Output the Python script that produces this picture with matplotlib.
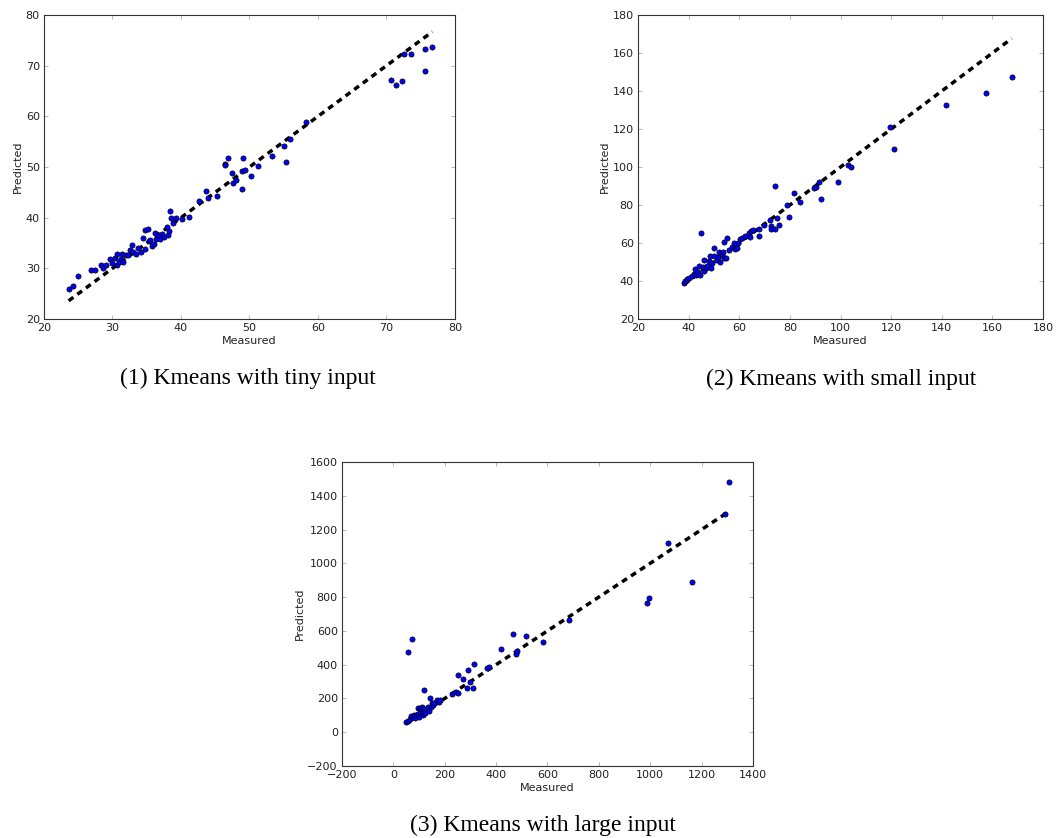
import numpy as np
import matplotlib
matplotlib.use('Agg')
import matplotlib.pyplot as plt

# (1) tiny input
tiny_measured = [23.6, 24.3, 24.9, 26.8, 27.5, 28.3, 28.6, 29.1, 29.7, 29.9, 30.3, 30.7,
                 30.6, 30.9, 31.2, 31.4, 31.6, 32.0, 32.3, 32.6, 32.8, 33.0, 33.4, 33.7,
                 34.1, 34.5, 34.7, 34.8, 35.2, 35.3, 35.5, 35.7, 36.0, 36.2, 36.4, 36.7,
                 36.9, 37.2, 37.5, 37.9, 38.1, 38.2, 38.4, 38.6, 38.9, 39.3, 40.1, 41.1,
                 42.6, 43.6, 43.9, 45.3, 46.4, 46.5, 46.8, 47.5, 47.6, 48.0, 48.9, 48.9,
                 49.1, 49.4, 50.2, 51.2, 53.3, 55.1, 55.3, 55.9, 58.3, 70.6, 71.4, 72.2,
                 72.5, 73.6, 75.6, 75.7, 76.7]
tiny_predicted = [26.0, 26.6, 28.4, 29.6, 29.7, 30.6, 30.0, 30.7, 31.8, 31.0, 32.0, 32.8,
                  30.7, 31.3, 31.8, 32.8, 31.3, 32.6, 32.6, 33.6, 34.6, 33.3, 32.8, 34.1,
                  33.2, 36.0, 37.6, 33.9, 37.8, 35.3, 35.6, 34.5, 34.9, 36.9, 35.8, 36.6,
                  35.7, 36.7, 36.1, 38.2, 36.6, 37.4, 41.3, 39.9, 39.0, 39.9, 39.7, 40.1,
                  43.2, 45.3, 43.9, 44.2, 50.5, 50.4, 51.8, 48.9, 46.9, 47.4, 45.7, 49.2,
                  51.8, 49.4, 48.2, 50.2, 52.2, 54.2, 50.9, 55.5, 58.8, 67.1, 66.1, 67.0,
                  72.3, 72.3, 68.9, 73.2, 73.7]

# (2) small input
small_measured = [38.3, 38.7, 39.4, 40.1, 41.2, 42.1, 42.5, 42.9, 43.7, 44.2, 44.6, 45.0,
                  45.5, 45.9, 46.2, 46.9, 47.4, 48.2, 48.6, 49.0, 49.4, 49.9, 50.2, 51.2,
                  51.7, 52.0, 52.5, 53.2, 53.6, 53.8, 54.1, 54.9, 55.2, 56.1, 57.1, 57.8,
                  58.2, 59.1, 59.4, 60.2, 61.1, 62.4, 63.7, 64.4, 64.6, 65.4, 67.7, 67.7,
                  69.6, 72.3, 72.5, 72.5, 74.0, 74.3, 75.0, 75.6, 78.9, 79.7, 81.8, 84.1,
                  89.4, 90.4, 91.6, 92.3, 98.9, 102.8, 104.1, 119.4, 121.0, 141.5, 157.5,
                  167.6]
small_predicted = [39.1, 40.0, 40.9, 41.8, 42.6, 43.7, 46.1, 43.2, 44.9, 47.7, 43.2, 65.3,
                   47.5, 50.9, 45.4, 46.7, 48.1, 50.5, 53.3, 47.0, 49.3, 53.2, 57.2, 51.1,
                   52.8, 55.4, 50.2, 53.7, 55.4, 51.9, 60.4, 51.9, 62.5, 56.3, 58.1, 60.2,
                   56.7, 57.2, 59.8, 61.9, 62.5, 63.7, 65.1, 63.3, 66.1, 66.8, 63.7, 67.2,
                   69.5, 72.1, 68.9, 67.2, 67.2, 90.2, 73.2, 69.6, 80.2, 73.9, 86.3, 81.6,
                   88.9, 89.6, 92.3, 83.0, 92.3, 100.9, 100.0, 121.1, 109.6, 132.5, 138.9,
                   147.5]

# (3) large input
large_measured = [50, 56, 59, 63, 68, 73, 76, 82, 85, 90, 95, 97, 100, 104, 105, 110, 111,
                  115, 117, 120, 121, 125, 130, 135, 140, 142, 146, 150, 155, 160, 169,
                  176, 182, 230, 243, 250, 253, 273, 288, 290, 299, 309, 316, 366, 374,
                  421, 467, 476, 481, 516, 581, 684, 988, 996, 1071, 1162, 1291, 1305]
large_predicted = [62, 68, 476, 76, 96, 551, 92, 102, 85, 100, 110, 141, 90, 141, 120, 130,
                   151, 100, 112, 140, 250, 115, 131, 150, 125, 200, 151, 171, 160, 175,
                   190, 181, 190, 224, 240, 230, 338, 313, 259, 368, 299, 263, 405, 378,
                   384, 490, 579, 462, 480, 571, 537, 664, 768, 796, 1119, 888, 1294, 1482]

panels = [
    (tiny_measured, tiny_predicted, (20, 80), (20, 80), '(1) Kmeans with tiny input'),
    (small_measured, small_predicted, (20, 180), (20, 180), '(2) Kmeans with small input'),
    (large_measured, large_predicted, (-200, 1400), (-200, 1600), '(3) Kmeans with large input'),
]

# axes boxes in figure fractions and caption positions
boxes = [
    [0.0415, 0.6193, 0.3877, 0.3628],
    [0.6019, 0.6193, 0.3821, 0.3628],
    [0.3226, 0.0859, 0.3877, 0.3628],
]
captions_xy = [(248 / 1060, 1 - 378 / 838), (841 / 1060, 1 - 379 / 838), (543 / 1060, 1 - 825 / 838)]

fig = plt.figure(figsize=(10.6, 8.38), dpi=100)

for (meas, pred, xl, yl, cap), box, cxy in zip(panels, boxes, captions_xy):
    ax = fig.add_axes(box)
    meas = np.array(meas)
    pred = np.array(pred)
    ax.scatter(meas, pred, s=14, c='#0000ff', edgecolors='black', linewidths=0.5, zorder=3)
    ax.plot([meas.min(), meas.max()], [meas.min(), meas.max()], color='black', lw=2.5,
            linestyle=(0, (1.7, 1.4)), zorder=2)
    ax.set_xlim(xl)
    ax.set_ylim(yl)
    ax.set_xlabel('Measured', fontsize=8, labelpad=2, color='#222222')
    ax.set_ylabel('Predicted', fontsize=8, labelpad=2, color='#222222')
    ax.tick_params(direction='in', top=True, right=True, length=3, width=0.5,
                   labelsize=8, pad=3, color='#999999', labelcolor='#222222')
    for sp in ax.spines.values():
        sp.set_linewidth(0.8)
        sp.set_color('#333333')
    fig.text(cxy[0], cxy[1], cap, ha='center', va='center', fontsize=17,
             family='Liberation Serif')

plt.savefig('out.png', dpi=100)
